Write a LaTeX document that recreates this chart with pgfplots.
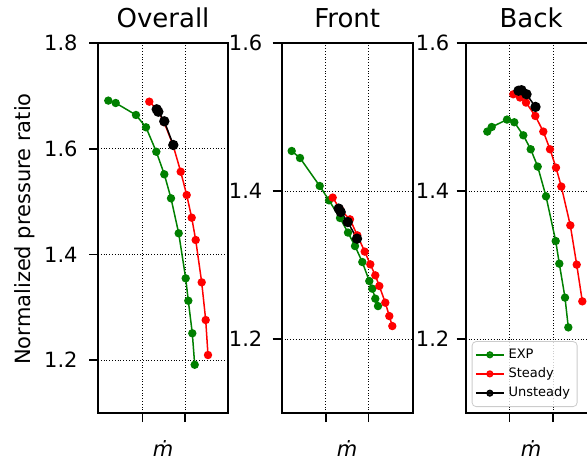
\documentclass[border=0pt]{standalone}
\usepackage{pgfplots}
\pgfplotsset{compat=1.18}
\usepackage{fontspec}
\setmainfont{DejaVu Sans}
\definecolor{mplgreen}{HTML}{008000}
\pgfplotsset{
  panel/.style={
    scale only axis, height=185pt,
    ymin=1.1,
    axis line style={line width=0.9pt},
    tick align=outside, major tick length=4.5pt,
    tick style={line width=0.8pt, black},
    xtick pos=lower, ytick pos=left,
    xticklabels={},
    grid=major, major grid style={densely dotted, line width=0.35pt, black},
    ticklabel style={font=\fontsize{10.5}{12}\selectfont},
    /pgf/number format/assume math mode=true,
    yticklabel style={anchor=east, inner sep=0pt, /pgf/number format/fixed, /pgf/number format/fixed zerofill, /pgf/number format/precision=1},
    title style={at={(axis description cs:0.5,1)}, anchor=base, yshift=1.6pt, font=\fontsize{13}{15}\selectfont},
    xlabel={\textit{ṁ}},
    xlabel style={at={(axis description cs:0.5,0)}, anchor=base, yshift=-21.5pt, font=\fontsize{10.5}{12}\selectfont},
  },
  exp/.style={color=mplgreen, line width=0.75pt, mark=*, mark size=1.7pt},
  std/.style={color=red, line width=0.75pt, mark=*, mark size=1.7pt},
  uns/.style={color=black, line width=0.75pt, mark=*, mark size=2.2pt},
}
\begin{document}
\begin{tikzpicture}
% Overall
\begin{axis}[panel, at={(49pt,-206.5pt)}, anchor=south west, width=65pt,
  xmin=0, xmax=130, xtick={44.3,87}, ymax=1.8, ytick={1.2,1.4,1.6,1.8},
  yticklabel style={xshift=-5.5pt}, title={Overall}]
\addplot[exp] coordinates {(10.3,1.691)(17.7,1.6865)(38,1.6638)(48,1.6405)(58.3,1.5943)(66.3,1.5516)(73,1.5062)(80.7,1.440)(87.7,1.3548)(90.3,1.3124)(94.3,1.2508)(96.7,1.1913)};
\addplot[std] coordinates {(51.3,1.689)(59.5,1.6732)(66,1.6505)(75,1.607)(82.7,1.5565)(88.7,1.5124)(93.7,1.4695)(97.7,1.4273)(103.7,1.3472)(107.7,1.2759)(110,1.2097)};
\addplot[uns] coordinates {(58.7,1.6746)(60.3,1.670)(66.3,1.6519)(75.3,1.607)};
\end{axis}
% Front
\begin{axis}[panel, at={(140.85pt,-206.5pt)}, anchor=south west, width=65.5pt,
  xmin=0, xmax=131, xtick={44,86.6}, ymax=1.6, ytick={1.2,1.4,1.6},
  yticklabel style={xshift=-5pt}, title={Front}]
\addplot[exp] coordinates {(10,1.4541)(18.3,1.4446)(38,1.4068)(47.3,1.3874)(58.3,1.3635)(66.3,1.3438)(73.3,1.3256)(80.6,1.304)(87.6,1.2783)(90.6,1.268)(93.6,1.2545)(96.3,1.2445)};
\addplot[std] coordinates {(51,1.3911)(58.3,1.3753)(68.3,1.3617)(75.6,1.3401)(83,1.3181)(88.6,1.3009)(93.6,1.286)(97.6,1.2716)(103.6,1.2491)(107.6,1.231)(110.6,1.2175)};
\addplot[uns] coordinates {(57,1.3762)(59,1.3716)(66,1.3581)(75.3,1.3356)};
\end{axis}
% Back
\begin{axis}[panel, at={(232.85pt,-206.5pt)}, anchor=south west, width=65.5pt,
  xmin=0, xmax=131, xtick={43.6,87.3}, ymax=1.6, ytick={1.2,1.4,1.6},
  yticklabel style={xshift=-3.5pt}, title={Back},
  legend style={at={(axis description cs:0,0)}, anchor=south west, xshift=3pt, yshift=3pt,
    font=\fontsize{6.5}{7.5}\selectfont, draw=black!20, rounded corners=2pt,
    fill=white, fill opacity=0.8, text opacity=1, row sep=-0.8pt, inner sep=1.5pt},
  legend cell align=left,
  legend image code/.code={\draw[mark repeat=2,mark phase=2,#1,mark size=1.4pt] plot coordinates {(0pt,0pt) (7pt,0pt) (14pt,0pt)};}]
\addplot[exp] coordinates {(21.6,1.4803)(26,1.4865)(41.3,1.4965)(48.6,1.4929)(57.6,1.4753)(65,1.4564)(72,1.433)(80.3,1.3928)(90,1.3324)(93.6,1.3018)(99.3,1.2559)(102.6,1.2157)};
\addplot[std] coordinates {(47.6,1.5307)(54.3,1.5263)(60.3,1.5195)(69.6,1.5014)(77.6,1.4803)(84.3,1.4564)(90.3,1.4316)(95.6,1.406)(104.6,1.3536)(111,1.3005)(116.6,1.2509)};
\addplot[uns] coordinates {(52.8,1.5355)(55.8,1.5362)(60.8,1.5307)(69.8,1.5136)};
\legend{EXP,Steady,Unsteady}
\end{axis}
\node[rotate=90, anchor=base, font=\fontsize{10.5}{12}\selectfont] at (15pt,-114.5pt) {Normalized pressure ratio};
\pgfresetboundingbox
\useasboundingbox (0,0) rectangle (293.5pt,-232pt);
\end{tikzpicture}
\end{document}
